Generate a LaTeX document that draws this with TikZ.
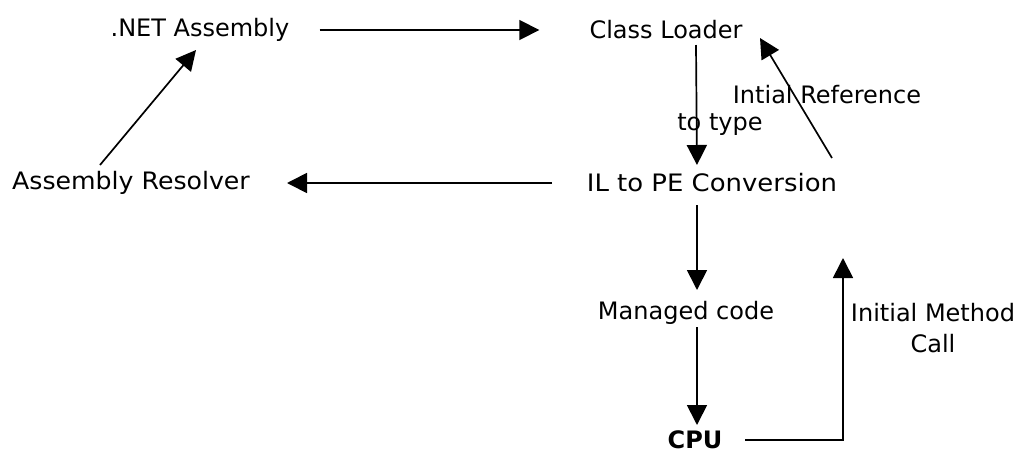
\documentclass[tikz,border=0pt]{standalone}
\usepackage{fontspec}
\setmainfont{DejaVu Sans}
\usetikzlibrary{arrows.meta}
\begin{document}
\begin{tikzpicture}[x=1pt,y=1pt,
  lbl/.style={inner sep=0pt,font=\fontsize{24}{31}\selectfont},
  arr/.style={line width=1.7pt,-{Triangle[length=20pt,width=20pt]}},
  ln/.style={line width=1.7pt}]
\useasboundingbox (0,0) rectangle (1026,-456);
\node[lbl] (net) at (200,-30) {.NET Assembly};
\node[lbl] (cl) at (666,-30) {Class Loader};
\node[lbl,xscale=1.08] (il) at (712,-183) {IL to PE Conversion};
\node[lbl,xscale=1.05] (ar) at (131,-183) {Assembly Resolver};
\node[lbl] (mc) at (686,-313) {Managed code};
\node[lbl,font=\fontsize{24}{31}\selectfont\bfseries] (cpu) at (695,-440) {CPU};
\node[lbl] (ref) at (827,-95) {Intial Reference};
\node[lbl] (tt) at (720,-125) {to type};
\node[lbl,align=center] (imc) at (933,-328) {Initial Method\\Call};
\draw[arr] ([xshift=30pt]net.east) -- ([xshift=-50pt]cl.west);
\draw[arr] ([shift={(30,-15)}]cl.center) -- ([shift={(-15,18)}]il.center);
\draw[arr] ([shift={(120,25)}]il.center) -- ([shift={(94,-8)}]cl.center);
\draw[arr] ([shift={(-160,0)}]il.center) -- ([shift={(156,0)}]ar.center);
\draw[arr] ([shift={(-31,18)}]ar.center) -- ([shift={(-4,-20)}]net.center);
\draw[arr] ([shift={(-15,-22)}]il.center) -- ([shift={(11,23)}]mc.center);
\draw[arr] ([shift={(11,-14)}]mc.center) -- ([shift={(2,15)}]cpu.center);
\draw[arr] ([shift={(50,0)}]cpu.center) -| ([shift={(131,-75)}]il.center);
\end{tikzpicture}
\end{document}
